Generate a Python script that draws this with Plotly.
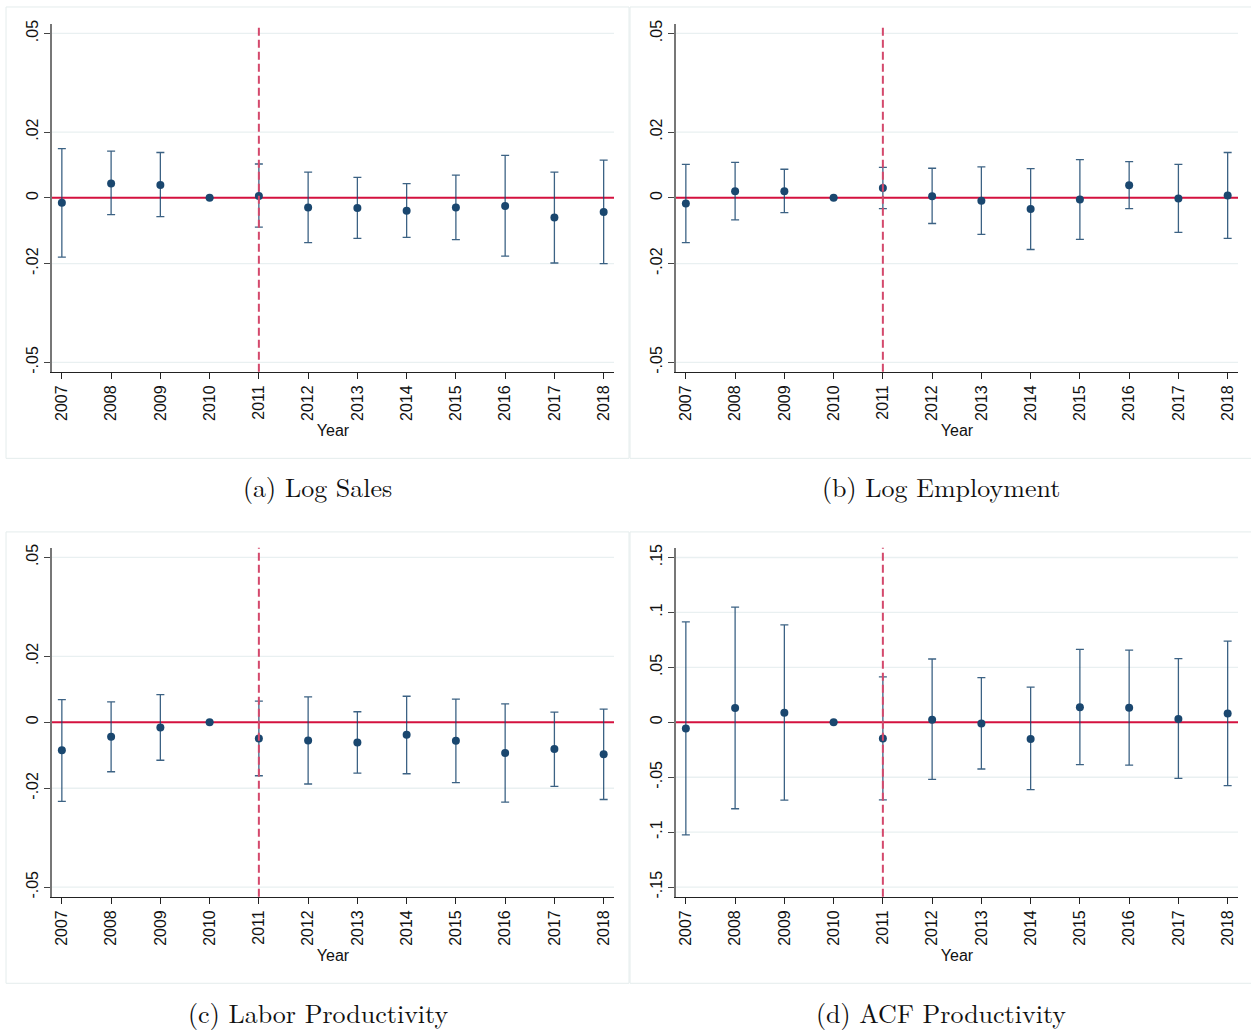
import plotly.graph_objects as go

years = [2007, 2008, 2009, 2010, 2011, 2012, 2013, 2014, 2015, 2016, 2017, 2018]

# (a) Log Sales
sales_est = [-0.0015, 0.0044, 0.0039, 0.0, 0.0006, -0.0029, -0.0031, -0.0039, -0.0029, -0.0025, -0.0060, -0.0043]
sales_lo = [-0.0180, -0.0051, -0.0057, None, -0.0089, -0.0136, -0.0123, -0.0120, -0.0127, -0.0177, -0.0198, -0.0200]
sales_hi = [0.0150, 0.0142, 0.0138, None, 0.0103, 0.0078, 0.0062, 0.0043, 0.0069, 0.0129, 0.0078, 0.0115]

# (b) Log Employment
emp_est = [-0.0017, 0.0020, 0.0020, 0.0, 0.0030, 0.0005, -0.0009, -0.0034, -0.0005, 0.0038, -0.0002, 0.0007]
emp_lo = [-0.0136, -0.0067, -0.0045, None, -0.0033, -0.0078, -0.0111, -0.0157, -0.0126, -0.0033, -0.0105, -0.0123]
emp_hi = [0.0102, 0.0108, 0.0087, None, 0.0093, 0.0090, 0.0094, 0.0089, 0.0116, 0.0110, 0.0102, 0.0138]

# (c) Labor Productivity
lp_est = [-0.0085, -0.0044, -0.0016, 0.0, -0.0049, -0.0055, -0.0061, -0.0038, -0.0056, -0.0093, -0.0081, -0.0097]
lp_lo = [-0.0240, -0.0150, -0.0115, None, -0.0162, -0.0187, -0.0154, -0.0156, -0.0183, -0.0242, -0.0194, -0.0234]
lp_hi = [0.0069, 0.0062, 0.0084, None, 0.0064, 0.0077, 0.0032, 0.0079, 0.0070, 0.0056, 0.0031, 0.0040]

# (d) ACF Productivity
acf_est = [-0.0057, 0.0130, 0.0087, 0.0, -0.0148, 0.0024, -0.0012, -0.0151, 0.0136, 0.0133, 0.0030, 0.0081]
acf_lo = [-0.1025, -0.0787, -0.0709, None, -0.0706, -0.0519, -0.0425, -0.0612, -0.0386, -0.0389, -0.0510, -0.0576]
acf_hi = [0.0914, 0.1049, 0.0887, None, 0.0413, 0.0576, 0.0407, 0.0320, 0.0663, 0.0657, 0.0579, 0.0739]

ticks_small = [-0.05, -0.02, 0, 0.02, 0.05]
ticks_small_lbl = ["-.05", "-.02", "0", ".02", ".05"]
ticks_big = [-0.15, -0.1, -0.05, 0, 0.05, 0.1, 0.15]
ticks_big_lbl = ["-.15", "-.1", "-.05", "0", ".05", ".1", ".15"]

captions = ["(a) Log Sales", "(b) Log Employment", "(c) Labor Productivity", "(d) ACF Productivity"]
event_year = 2011
ref_value = 0

W, H = 1251, 1032

def px_x(v):
    return v / W

def px_y(v):
    return 1 - v / H

panels = [
    dict(est=sales_est, lo=sales_lo, hi=sales_hi, xd=(52, 614), yd=(20, 370), rng=0.0529,
         tv=ticks_small, tl=ticks_small_lbl, cap=captions[0], capxy=(318, 485), box=(6, 3, 629, 457)),
    dict(est=emp_est, lo=emp_lo, hi=emp_hi, xd=(676, 1238), yd=(20, 370), rng=0.0529,
         tv=ticks_small, tl=ticks_small_lbl, cap=captions[1], capxy=(941, 485), box=(630, 3, 1260, 457)),
    dict(est=lp_est, lo=lp_lo, hi=lp_hi, xd=(52, 614), yd=(547, 898), rng=0.0529,
         tv=ticks_small, tl=ticks_small_lbl, cap=captions[2], capxy=(318, 1014), box=(6, 531, 629, 985)),
    dict(est=acf_est, lo=acf_lo, hi=acf_hi, xd=(676, 1238), yd=(547, 898), rng=0.1588,
         tv=ticks_big, tl=ticks_big_lbl, cap=captions[3], capxy=(941, 1014), box=(630, 531, 1260, 985)),
]

navy = "#1a476f"
bar_col = "rgba(26,71,111,0.85)"
red = "#d4123f"
dash_red = "#d4496c"
grid = "#e9f0f1"
font_sans = "Liberation Sans, Arial, sans-serif"
font_serif = "Latin Modern Roman, CMU Serif, DejaVu Serif, serif"

fig = go.Figure()
shapes = []
annotations = []
layout = {}

for i, p in enumerate(panels, start=1):
    xa = "x" if i == 1 else f"x{i}"
    ya = "y" if i == 1 else f"y{i}"
    xkey = "xaxis" if i == 1 else f"xaxis{i}"
    ykey = "yaxis" if i == 1 else f"yaxis{i}"

    # panel border
    bx0, by0, bx1, by1 = p["box"]
    shapes.append(dict(type="rect", xref="paper", yref="paper",
                       x0=px_x(bx0), x1=px_x(bx1), y0=px_y(by1), y1=px_y(by0),
                       line=dict(color="#e4ecec", width=1), fillcolor="rgba(0,0,0,0)", layer="below"))

    # horizontal gridlines at the non-zero tick values
    for tv in p["tv"]:
        if tv != ref_value:
            shapes.append(dict(type="line", xref=f"{xa} domain", yref=ya, x0=0, x1=1, y0=tv, y1=tv,
                               line=dict(color=grid, width=1.3), layer="below"))

    # zero reference line
    shapes.append(dict(type="line", xref=f"{xa} domain", yref=ya, x0=0, x1=1, y0=ref_value, y1=ref_value,
                       line=dict(color=red, width=2), layer="below"))

    up = [(h - e) if h is not None else None for h, e in zip(p["hi"], p["est"])]
    dn = [(e - l) if l is not None else None for l, e in zip(p["lo"], p["est"])]

    fig.add_trace(go.Scatter(
        x=years, y=p["est"], mode="markers", xaxis=xa, yaxis=ya,
        marker=dict(color=navy, size=8),
        error_y=dict(type="data", symmetric=False, array=up, arrayminus=dn,
                     color=bar_col, thickness=1.3, width=4),
        showlegend=False, cliponaxis=False,
    ))

    # vertical dashed line at the event year
    shapes.append(dict(type="line", xref=xa, yref=f"{ya} domain", x0=event_year, x1=event_year, y0=0, y1=1,
                       line=dict(color=dash_red, width=2, dash="8px,4px"), layer="above"))

    layout[xkey] = dict(
        domain=[px_x(p["xd"][0]), px_x(p["xd"][1])], anchor=ya,
        range=[2006.8, 2018.21], tickmode="array", tickvals=years, ticktext=[str(y) for y in years],
        tickangle=-90, ticks="outside", ticklen=6, tickcolor="#222", tickwidth=1,
        showline=True, linecolor="#222", linewidth=1.2, showgrid=False, zeroline=False,
        tickfont=dict(family=font_sans, size=16, color="#111"),
        title=dict(text="Year", font=dict(family=font_sans, size=16, color="#111"), standoff=4),
    )
    layout[ykey] = dict(
        domain=[px_y(p["yd"][1]), px_y(p["yd"][0])], anchor=xa,
        range=[-p["rng"], p["rng"]], tickmode="array", tickvals=p["tv"], ticktext=p["tl"],
        tickangle=-90, ticks="outside", ticklen=6, tickcolor="#444", tickwidth=1,
        showline=True, linecolor="#777", linewidth=1.5, showgrid=False,
        zeroline=False,
        tickfont=dict(family=font_sans, size=16, color="#111"),
    )

    annotations.append(dict(text=p["cap"], xref="paper", yref="paper",
                            x=px_x(p["capxy"][0]), y=px_y(p["capxy"][1]),
                            xanchor="center", yanchor="middle", showarrow=False,
                            font=dict(family=font_serif, size=26, color="#111")))

fig.update_layout(
    width=W, height=H, margin=dict(l=0, r=0, t=0, b=0),
    paper_bgcolor="white", plot_bgcolor="rgba(0,0,0,0)",
    shapes=shapes, annotations=annotations, **layout,
)

fig.write_html("out.html")
